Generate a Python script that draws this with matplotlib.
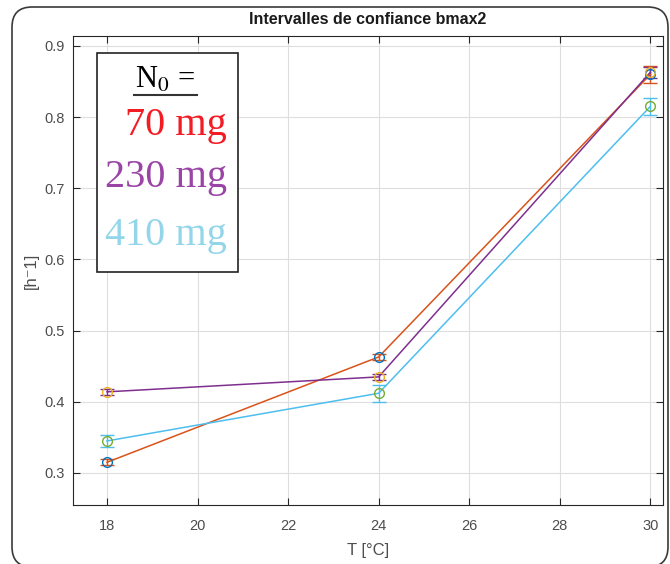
import matplotlib
matplotlib.use("Agg")
import matplotlib.pyplot as plt
from matplotlib.patches import FancyBboxPatch, Rectangle

plt.rcParams['font.family'] = ['Liberation Sans', 'DejaVu Sans']

# data
temps = [18, 24, 30]
b70 = [0.315, 0.463, 0.860]
e70 = [0.004, 0.004, 0.012]
b230 = [0.414, 0.435, 0.863]
e230 = [0.004, 0.004, 0.008]
b410 = [0.345, 0.412, 0.815]
e410 = [0.008, 0.012, 0.012]

xticks = [18, 20, 22, 24, 26, 28, 30]
yticks = [0.3, 0.4, 0.5, 0.6, 0.7, 0.8, 0.9]

fig = plt.figure(figsize=(6.7, 5.64), dpi=100)
ax = fig.add_axes([73/670, 1-505/564, (663-73)/670, (505-36)/564])

# outer rounded frame (screenshot border)
frame = FancyBboxPatch((12/670, -3/564), (668-12)/670, (557+3)/564,
                       boxstyle="round,pad=0,rounding_size=0.03",
                       transform=fig.transFigure, fill=False,
                       ec='#3a3a3a', lw=1.2, mutation_aspect=670/564)
fig.patches.append(frame)

series = [
    (b70, e70, '#D95319', '#0072BD'),
    (b230, e230, '#7E2F8E', '#EDB120'),
    (b410, e410, '#4DBEEE', '#77AC30'),
]
for vals, errs, lc, mc in series:
    ax.errorbar(temps, vals, yerr=errs, color=lc, lw=1.1, capsize=5,
                elinewidth=1, capthick=1, zorder=3)
    ax.plot(temps, vals, 'o', mfc='none', mec=mc, ms=7, mew=1, zorder=4)

ax.set_xlim(17.25, 30.28)
ax.set_ylim(0.255, 0.914)
ax.set_xticks(xticks)
ax.set_yticks(yticks)
ax.set_yticklabels(['0.3', '0.4', '0.5', '0.6', '0.7', '0.8', '0.9'])
ax.grid(True, color='#dedede', lw=0.8)
ax.set_axisbelow(True)
ax.tick_params(direction='in', top=True, right=True, labelsize=10.5,
               colors='#262626', labelcolor='#4d4d4d', length=5)
ax.tick_params(axis='x', pad=10)
ax.tick_params(axis='y', pad=6)
for s in ax.spines.values():
    s.set_color('#262626')
    s.set_linewidth(0.8)

ax.set_title('Intervalles de confiance bmax2', fontsize=11.5, fontweight='bold',
             color='#1a1a1a', pad=9)
ax.set_xlabel('T [°C]', fontsize=12, color='#4d4d4d', labelpad=7)
ax.set_ylabel('[h\u207b1]', fontsize=12, color='#4d4d4d', labelpad=4)

# legend-like text box
box = Rectangle((97/670, 1-272/564), (238-97)/670, (272-53)/564,
                transform=fig.transFigure, fill=True, fc='white',
                ec='#222222', lw=1.2, zorder=5)
fig.patches.append(box)
serif = ['Liberation Serif', 'DejaVu Serif']
fig.text(165/670, 1-88/564, 'N$_0$ =', family=serif, fontsize=22,
         ha='center', va='baseline', color='black', zorder=6,
         math_fontfamily='stix')
fig.add_artist(plt.Line2D([134/670, 197/670], [1-95/564, 1-95/564],
                          transform=fig.transFigure, color='#333333', lw=1.5,
                          zorder=6))
fig.text(227/670, 1-135/564, '70 mg', family=serif, fontsize=29,
         ha='right', va='baseline', color='#f41c24', zorder=6)
fig.text(227/670, 1-187/564, '230 mg', family=serif, fontsize=29,
         ha='right', va='baseline', color='#9a45a6', zorder=6)
fig.text(227/670, 1-245/564, '410 mg', family=serif, fontsize=29,
         ha='right', va='baseline', color='#93d6ea', zorder=6)

fig.savefig('out.png', dpi=100)
